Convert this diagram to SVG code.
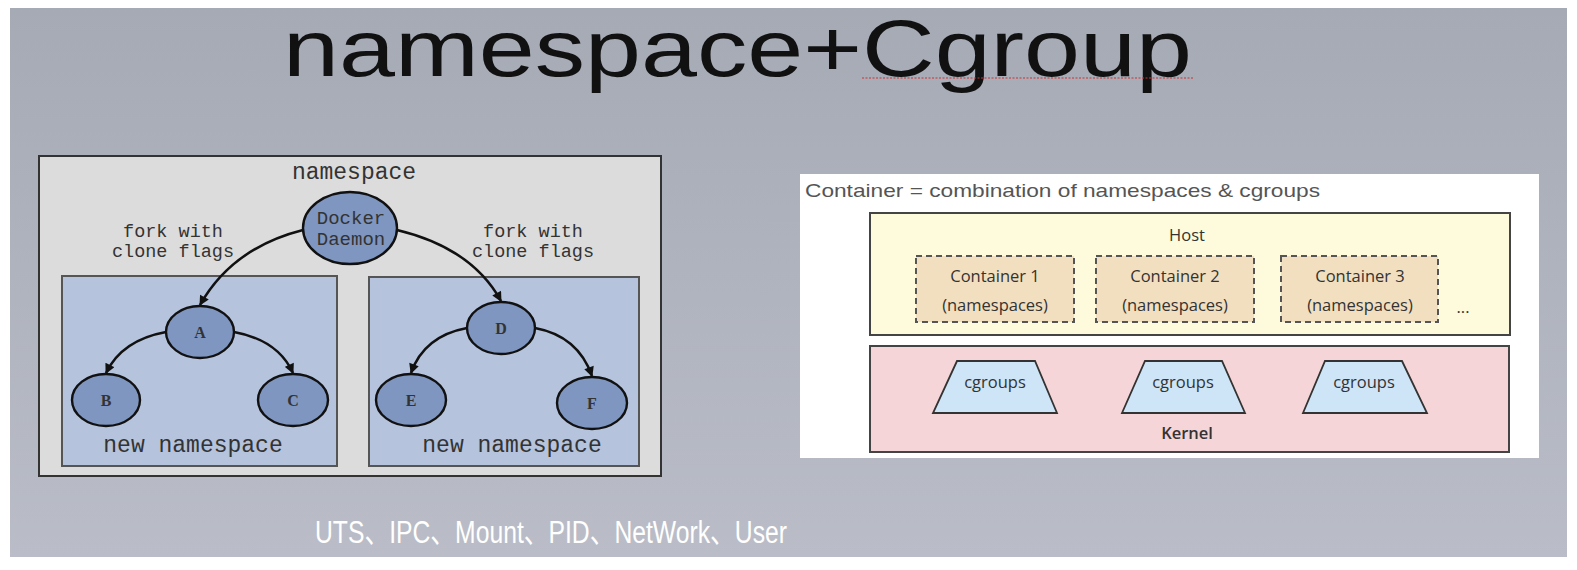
<svg xmlns="http://www.w3.org/2000/svg" width="1577" height="570" viewBox="0 0 1577 570">
<defs>
<linearGradient id="bg" x1="0" y1="0" x2="0" y2="1">
<stop offset="0" stop-color="#a5aab5"/>
<stop offset="1" stop-color="#babdc7"/>
</linearGradient>
<marker id="ah" viewBox="0 0 10 10" refX="9" refY="5" markerWidth="11" markerHeight="10" orient="auto" markerUnits="userSpaceOnUse">
<path d="M0,0 L10,5 L0,10 z" fill="#111"/>
</marker>
<style>
.mono{font-family:"Liberation Mono","DejaVu Sans Mono",monospace;fill:#333;}
.node{fill:#7f96c0;stroke:#111;stroke-width:2.4;}
.lbl{font-family:"Liberation Serif",serif;font-weight:bold;font-size:16px;fill:#333;text-anchor:middle;}
.inner{fill:#b5c3dd;stroke:#555;stroke-width:2;}
.edge{fill:none;stroke:#111;stroke-width:2.5;marker-end:url(#ah);}
.cal{font-family:"Open Sans","Lato",sans-serif;fill:#333;text-anchor:middle;font-size:16.5px;}
.cont{fill:#f2dfbf;stroke:#555;stroke-width:2;stroke-dasharray:6 4;}
.trap{fill:#cde5f7;stroke:#333;stroke-width:1.8;}
.link{stroke:#222;stroke-width:2;}
</style>
</defs>
<rect width="1577" height="570" fill="#ffffff"/>
<rect x="10" y="8" width="1557" height="549" fill="url(#bg)"/>
<text x="283" y="76" font-family="Liberation Sans,Arial,sans-serif" font-size="80" fill="#111" textLength="909" lengthAdjust="spacingAndGlyphs">namespace+Cgroup</text>
<line x1="862" y1="78" x2="1193" y2="78" stroke="#d03030" stroke-width="1.2" stroke-dasharray="2 1.5"/>

<g id="namespace-panel">
<rect x="39" y="156" width="622" height="320" fill="#dcdcdc" stroke="#333" stroke-width="2"/>
<text class="mono" x="354" y="179" font-size="23" text-anchor="middle">namespace</text>
<text class="mono" x="173" y="237" font-size="18.5" text-anchor="middle">fork with</text>
<text class="mono" x="173" y="257" font-size="18.5" text-anchor="middle">clone flags</text>
<text class="mono" x="533" y="237" font-size="18.5" text-anchor="middle">fork with</text>
<text class="mono" x="533" y="257" font-size="18.5" text-anchor="middle">clone flags</text>
</g>
<g id="ns-left">
<rect class="inner" x="62" y="276" width="275" height="190"/>
<text class="mono" x="193" y="452" font-size="23" text-anchor="middle">new namespace</text>
</g>
<g id="ns-right">
<rect class="inner" x="369" y="277" width="270" height="189"/>
<text class="mono" x="512" y="452" font-size="23" text-anchor="middle">new namespace</text>
</g>
<g id="docker">
<ellipse class="node" cx="350" cy="228" rx="47" ry="36"/>
<text class="mono" x="351" y="224" font-size="19" text-anchor="middle">Docker</text>
<text class="mono" x="351" y="245" font-size="19" text-anchor="middle">Daemon</text>
</g>
<g id="node-a"><ellipse class="node" cx="200" cy="332" rx="34" ry="26"/><text class="lbl" x="200" y="338">A</text></g>
<g id="node-b"><ellipse class="node" cx="106" cy="400" rx="34" ry="26"/><text class="lbl" x="106" y="406">B</text></g>
<g id="node-c"><ellipse class="node" cx="293" cy="400" rx="35" ry="26"/><text class="lbl" x="293" y="406">C</text></g>
<g id="node-d"><ellipse class="node" cx="501" cy="328" rx="34" ry="26"/><text class="lbl" x="501" y="334">D</text></g>
<g id="node-e"><ellipse class="node" cx="411" cy="400" rx="35" ry="26"/><text class="lbl" x="411" y="406">E</text></g>
<g id="node-f"><ellipse class="node" cx="592" cy="403" rx="35" ry="26"/><text class="lbl" x="592" y="409">F</text></g>

<g id="connectors">
<path class="edge" d="M303,230 Q232,248 200,305"/>
<path class="edge" d="M397,230 Q472,248 501,301"/>
<path class="edge" d="M166,332 Q122,340 106,373"/>
<path class="edge" d="M234,332 Q278,340 293,373"/>
<path class="edge" d="M467,328 Q424,336 411,373"/>
<path class="edge" d="M535,328 Q578,336 592,376"/>
<line class="link" x1="996" y1="322" x2="996" y2="361"/>
<line class="link" x1="1180" y1="322" x2="1180" y2="361"/>
<line class="link" x1="1361" y1="322" x2="1361" y2="361"/>
</g>

<g id="cgroup-panel">
<rect x="800" y="174" width="739" height="284" fill="#ffffff"/>
<text x="805" y="197" font-family="Liberation Sans,Arial,sans-serif" font-size="18.5" fill="#555" textLength="515" lengthAdjust="spacingAndGlyphs">Container = combination of namespaces &amp; cgroups</text>
</g>
<g id="host">
<rect x="870" y="213" width="640" height="122" fill="#fdfbdc" stroke="#444" stroke-width="2"/>
<text class="cal" x="1187" y="241">Host</text>
<text class="cal" x="1463" y="313">...</text>
</g>
<g id="kernel">
<rect x="870" y="346" width="639" height="106" fill="#f5d5d7" stroke="#444" stroke-width="2"/>
<text class="cal" x="1187" y="439" font-weight="600">Kernel</text>
</g>
<g id="container1">
<rect class="cont" x="916" y="256" width="158" height="66"/>
<text class="cal" x="995" y="282">Container 1</text>
<text class="cal" x="995" y="311">(namespaces)</text>
</g>
<g id="container2">
<rect class="cont" x="1096" y="256" width="158" height="66"/>
<text class="cal" x="1175" y="282">Container 2</text>
<text class="cal" x="1175" y="311">(namespaces)</text>
</g>
<g id="container3">
<rect class="cont" x="1281" y="256" width="157" height="66"/>
<text class="cal" x="1360" y="282">Container 3</text>
<text class="cal" x="1360" y="311">(namespaces)</text>
</g>
<g id="cgroups1">
<polygon class="trap" points="957,361 1035,361 1057,413 933,413"/>
<text class="cal" x="995" y="388">cgroups</text>
</g>
<g id="cgroups2">
<polygon class="trap" points="1145,361 1222,361 1245,413 1122,413"/>
<text class="cal" x="1183" y="388">cgroups</text>
</g>
<g id="cgroups3">
<polygon class="trap" points="1325,361 1402,361 1427,413 1303,413"/>
<text class="cal" x="1364" y="388">cgroups</text>
</g>

<text x="315" y="543" font-family="Liberation Sans,Arial,'Noto Sans CJK SC',sans-serif" font-size="31" fill="#ffffff" textLength="472" lengthAdjust="spacingAndGlyphs">UTS、IPC、Mount、PID、NetWork、User</text>
</svg>
